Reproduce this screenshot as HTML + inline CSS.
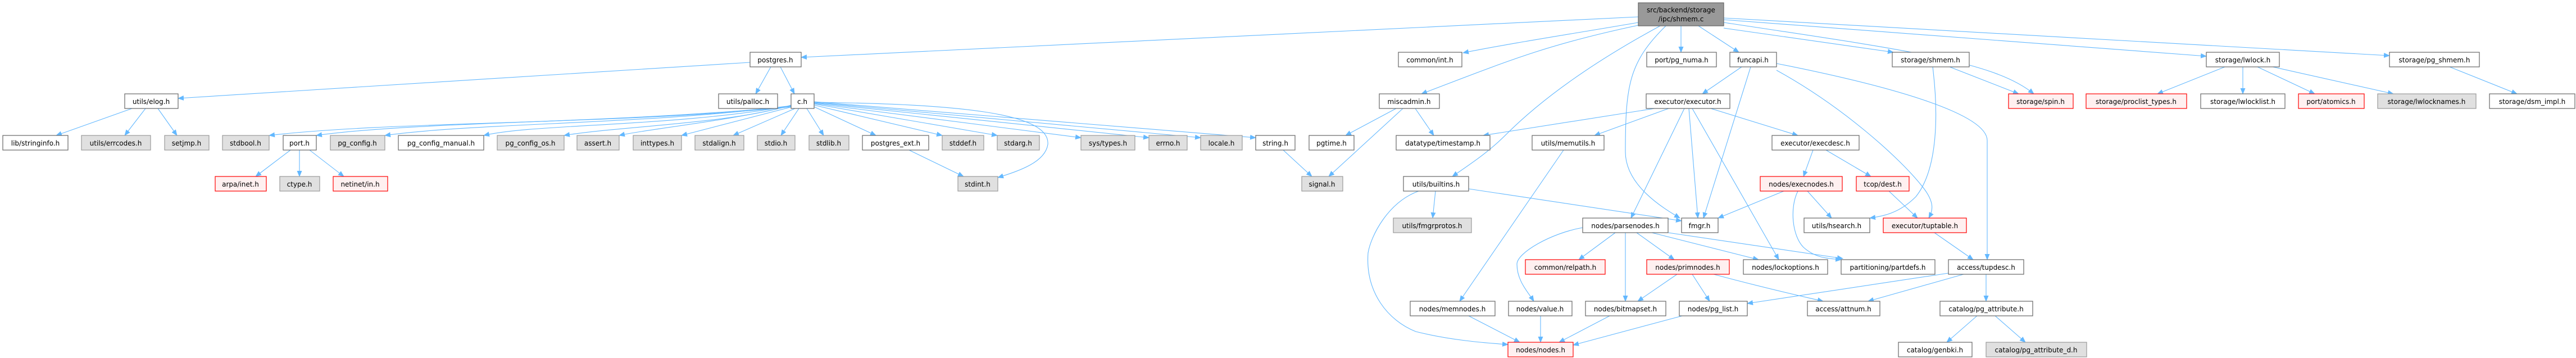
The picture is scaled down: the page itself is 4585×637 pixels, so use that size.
<!DOCTYPE html>
<html><head><meta charset="utf-8"><style>
html,body{margin:0;padding:0;background:#fff;width:4585px;height:637px;overflow:hidden}
svg text{font-family:"DejaVu Sans","Liberation Sans",sans-serif;font-size:12px;fill:#000;text-anchor:middle}
.e{fill:none;stroke:#63b8ff;stroke-width:1.1}
.w{fill:#fff;stroke:#666;stroke-width:1.2}
.g{fill:#e0e0e0;stroke:#999;stroke-width:1.2}
.r{fill:#fff0f0;stroke:#f00;stroke-width:1.2}
</style></head><body>
<svg width="4585" height="637" xmlns="http://www.w3.org/2000/svg">
<defs><marker id="a" markerWidth="11" markerHeight="9" refX="10" refY="4.5" orient="auto" markerUnits="userSpaceOnUse"><path d="M0,0 L11,4.5 L0,9 z" fill="#63b8ff"/></marker></defs>
<g class="e" marker-end="url(#a)">
<path d="M2916,30 L1426,102"/>
<path d="M1372,119 L1345,167"/>
<path d="M1389,119 L1414,167"/>
<path d="M1335,111 L317,175"/>
<path d="M1408,190 C1100,222 700,215 479,241"/>
<path d="M1408,189 C1100,220 750,215 563,241"/>
<path d="M1408,188 C1150,222 850,218 685,241"/>
<path d="M1408,188 C1200,226 950,220 861,241"/>
<path d="M1408,187 C1300,220 1100,225 1004,241"/>
<path d="M1408,188 C1300,215 1150,230 1102,241"/>
<path d="M1410,190 L1213,241"/>
<path d="M1415,193 L1305,241"/>
<path d="M1422,193 L1390,241"/>
<path d="M1436,193 L1466,241"/>
<path d="M1449,190 L1559,241"/>
<path d="M1449,187 L1677,241"/>
<path d="M1449,185 L1775,241"/>
<path d="M1449,184 L1924,245"/>
<path d="M1449,183 L2045,245"/>
<path d="M1449,182 L2137,245"/>
<path d="M1449,181 L2235,245"/>
<path d="M1449,182 C1700,185 1870,200 1865,257 C1860,290 1810,305 1776,316"/>
<path d="M1618,267 L1715,314"/>
<path d="M2284,267 L2335,314"/>
<path d="M2485,193 L2395,241"/>
<path d="M2497,193 L2365,314"/>
<path d="M2519,193 L2552,241"/>
<path d="M2916,40 C2800,60 2700,75 2604,94"/>
<path d="M2916,45 C2750,80 2680,110 2530,167"/>
<path d="M2955,46 C2800,130 2720,200 2680,240 C2650,270 2620,290 2585,314"/>
<path d="M2965,46 C2900,110 2893,150 2893,270 C2893,330 2960,370 2990,388"/>
<path d="M2992,46 L2992,93"/>
<path d="M3023,46 L3095,93"/>
<path d="M3068,50 L3370,93"/>
<path d="M3068,40 C3400,90 3550,110 3620,167"/>
<path d="M3068,35 L3927,100"/>
<path d="M3068,32 L4253,99"/>
<path d="M3100,119 L3030,167"/>
<path d="M3116,119 L3032,388"/>
<path d="M3162,113 C3350,150 3537,200 3537,250 L3537,462"/>
<path d="M3162,125 C3280,190 3380,280 3420,330 C3445,360 3440,375 3433,388"/>
<path d="M2945,193 L2640,241"/>
<path d="M2970,193 L2838,241"/>
<path d="M2998,193 L2903,388"/>
<path d="M3006,193 L3022,388"/>
<path d="M3012,193 L3166,462"/>
<path d="M3045,193 L3200,241"/>
<path d="M2783,267 L2598,536"/>
<path d="M2555,340 L2550,388"/>
<path d="M2614,336 L2993,393"/>
<path d="M2525,340 C2470,360 2440,420 2435,450 C2430,520 2470,570 2520,590 C2580,605 2640,610 2684,613"/>
<path d="M3227,267 L3210,314"/>
<path d="M3250,267 L3330,314"/>
<path d="M3175,340 L3058,388"/>
<path d="M3217,340 L3260,388"/>
<path d="M3200,340 C3185,370 3190,420 3210,440 C3230,458 3250,460 3277,462"/>
<path d="M3362,340 L3413,388"/>
<path d="M3470,119 L3593,167"/>
<path d="M3440,119 C3450,200 3450,300 3410,350 C3380,380 3350,385 3328,388"/>
<path d="M3443,414 L3512,462"/>
<path d="M2817,405 C2760,415 2700,450 2700,470 C2700,500 2720,520 2730,536"/>
<path d="M2875,414 L2810,462"/>
<path d="M2893,414 L2893,536"/>
<path d="M2913,414 L2980,462"/>
<path d="M2940,414 L3130,462"/>
<path d="M2969,414 L3280,460"/>
<path d="M2985,488 L2915,536"/>
<path d="M3012,488 L3043,536"/>
<path d="M3050,488 C3150,515 3220,530 3245,536"/>
<path d="M3468,486 L3110,540"/>
<path d="M3495,488 L3325,536"/>
<path d="M3535,488 L3535,536"/>
<path d="M3520,561 L3465,609"/>
<path d="M3550,561 L3605,609"/>
<path d="M3960,119 L3840,167"/>
<path d="M3992,119 L3992,167"/>
<path d="M4018,119 L4120,167"/>
<path d="M4045,119 L4260,167"/>
<path d="M4360,119 L4480,167"/>
<path d="M517,267 L455,314"/>
<path d="M533,267 L533,314"/>
<path d="M551,267 L612,314"/>
<path d="M235,193 L100,241"/>
<path d="M259,193 L222,241"/>
<path d="M281,193 L315,241"/>
<path d="M2612,561 L2705,609"/>
<path d="M2742,561 L2742,609"/>
<path d="M2867,561 L2775,609"/>
<path d="M2998,561 L2800,614"/>
</g>
<rect x="2916" y="5" width="152" height="41" fill="#999" stroke="#666" stroke-width="1.2"/>
<text x="2992" y="22">src/backend/storage</text><text x="2992" y="38">/ipc/shmem.c</text>

<rect class="w" x="1335" y="93" width="91" height="26"/><text x="1380" y="111">postgres.h</text>
<rect class="w" x="2489" y="93" width="113" height="26"/><text x="2545" y="111">common/int.h</text>
<rect class="w" x="2931" y="93" width="124" height="26"/><text x="2993" y="111">port/pg_numa.h</text>
<rect class="w" x="3079" y="93" width="83" height="26"/><text x="3120" y="111">funcapi.h</text>
<rect class="w" x="3368" y="93" width="137" height="26"/><text x="3436" y="111">storage/shmem.h</text>
<rect class="w" x="3927" y="93" width="130" height="26"/><text x="3992" y="111">storage/lwlock.h</text>
<rect class="w" x="4253" y="93" width="160" height="26"/><text x="4333" y="111">storage/pg_shmem.h</text>

<rect class="w" x="222" y="167" width="95" height="26"/><text x="269" y="185">utils/elog.h</text>
<rect class="w" x="1279" y="167" width="105" height="26"/><text x="1331" y="185">utils/palloc.h</text>
<rect class="w" x="1408" y="167" width="41" height="26"/><text x="1428" y="185">c.h</text>
<rect class="w" x="2455" y="167" width="107" height="26"/><text x="2508" y="185">miscadmin.h</text>
<rect class="w" x="2930" y="167" width="149" height="26"/><text x="3004" y="185">executor/executor.h</text>
<rect class="r" x="3575" y="167" width="115" height="26"/><text x="3632" y="185">storage/spin.h</text>
<rect class="r" x="3713" y="167" width="179" height="26"/><text x="3802" y="185">storage/proclist_types.h</text>
<rect class="w" x="3917" y="167" width="150" height="26"/><text x="3992" y="185">storage/lwlocklist.h</text>
<rect class="r" x="4091" y="167" width="117" height="26"/><text x="4149" y="185">port/atomics.h</text>
<rect class="g" x="4232" y="167" width="175" height="26"/><text x="4319" y="185">storage/lwlocknames.h</text>
<rect class="w" x="4431" y="167" width="152" height="26"/><text x="4507" y="185">storage/dsm_impl.h</text>

<rect class="w" x="5" y="241" width="116" height="26"/><text x="63" y="259">lib/stringinfo.h</text>
<rect class="g" x="145" y="241" width="123" height="26"/><text x="206" y="259">utils/errcodes.h</text>
<rect class="g" x="293" y="241" width="79" height="26"/><text x="332" y="259">setjmp.h</text>
<rect class="g" x="396" y="241" width="83" height="26"/><text x="437" y="259">stdbool.h</text>
<rect class="w" x="504" y="241" width="59" height="26"/><text x="533" y="259">port.h</text>
<rect class="g" x="588" y="241" width="97" height="26"/><text x="636" y="259">pg_config.h</text>
<rect class="w" x="709" y="241" width="152" height="26"/><text x="785" y="259">pg_config_manual.h</text>
<rect class="g" x="885" y="241" width="119" height="26"/><text x="944" y="259">pg_config_os.h</text>
<rect class="g" x="1027" y="241" width="75" height="26"/><text x="1064" y="259">assert.h</text>
<rect class="g" x="1127" y="241" width="86" height="26"/><text x="1170" y="259">inttypes.h</text>
<rect class="g" x="1237" y="241" width="87" height="26"/><text x="1280" y="259">stdalign.h</text>
<rect class="g" x="1348" y="241" width="67" height="26"/><text x="1381" y="259">stdio.h</text>
<rect class="g" x="1440" y="241" width="71" height="26"/><text x="1475" y="259">stdlib.h</text>
<rect class="w" x="1535" y="241" width="118" height="26"/><text x="1594" y="259">postgres_ext.h</text>
<rect class="g" x="1677" y="241" width="74" height="26"/><text x="1714" y="259">stddef.h</text>
<rect class="g" x="1775" y="241" width="75" height="26"/><text x="1812" y="259">stdarg.h</text>
<rect class="g" x="1924" y="241" width="96" height="26"/><text x="1972" y="259">sys/types.h</text>
<rect class="g" x="2045" y="241" width="68" height="26"/><text x="2079" y="259">errno.h</text>
<rect class="g" x="2137" y="241" width="74" height="26"/><text x="2174" y="259">locale.h</text>
<rect class="w" x="2235" y="241" width="70" height="26"/><text x="2270" y="259">string.h</text>
<rect class="w" x="2330" y="241" width="80" height="26"/><text x="2370" y="259">pgtime.h</text>
<rect class="w" x="2485" y="241" width="167" height="26"/><text x="2568" y="259">datatype/timestamp.h</text>
<rect class="w" x="2727" y="241" width="128" height="26"/><text x="2791" y="259">utils/memutils.h</text>
<rect class="w" x="3154" y="241" width="155" height="26"/><text x="3231" y="259">executor/execdesc.h</text>

<rect class="r" x="383" y="314" width="91" height="26"/><text x="428" y="332">arpa/inet.h</text>
<rect class="g" x="498" y="314" width="71" height="26"/><text x="533" y="332">ctype.h</text>
<rect class="r" x="593" y="314" width="97" height="26"/><text x="641" y="332">netinet/in.h</text>
<rect class="g" x="1705" y="314" width="71" height="26"/><text x="1740" y="332">stdint.h</text>
<rect class="g" x="2317" y="314" width="73" height="26"/><text x="2353" y="332">signal.h</text>
<rect class="w" x="2498" y="314" width="116" height="26"/><text x="2556" y="332">utils/builtins.h</text>
<rect class="r" x="3133" y="314" width="146" height="26"/><text x="3206" y="332">nodes/execnodes.h</text>
<rect class="r" x="3304" y="314" width="94" height="26"/><text x="3351" y="332">tcop/dest.h</text>

<rect class="g" x="2480" y="388" width="139" height="26"/><text x="2549" y="406">utils/fmgrprotos.h</text>
<rect class="w" x="2817" y="388" width="152" height="26"/><text x="2893" y="406">nodes/parsenodes.h</text>
<rect class="w" x="2993" y="388" width="65" height="26"/><text x="3025" y="406">fmgr.h</text>
<rect class="w" x="3211" y="388" width="117" height="26"/><text x="3269" y="406">utils/hsearch.h</text>
<rect class="r" x="3352" y="388" width="148" height="26"/><text x="3426" y="406">executor/tuptable.h</text>

<rect class="r" x="2715" y="462" width="142" height="26"/><text x="2786" y="480">common/relpath.h</text>
<rect class="r" x="2931" y="462" width="147" height="26"/><text x="3004" y="480">nodes/primnodes.h</text>
<rect class="w" x="3103" y="462" width="150" height="26"/><text x="3178" y="480">nodes/lockoptions.h</text>
<rect class="w" x="3277" y="462" width="167" height="26"/><text x="3360" y="480">partitioning/partdefs.h</text>
<rect class="w" x="3468" y="462" width="134" height="26"/><text x="3535" y="480">access/tupdesc.h</text>

<rect class="w" x="2510" y="536" width="151" height="26"/><text x="2585" y="554">nodes/memnodes.h</text>
<rect class="w" x="2685" y="536" width="113" height="26"/><text x="2741" y="554">nodes/value.h</text>
<rect class="w" x="2822" y="536" width="143" height="26"/><text x="2893" y="554">nodes/bitmapset.h</text>
<rect class="w" x="2989" y="536" width="121" height="26"/><text x="3049" y="554">nodes/pg_list.h</text>
<rect class="w" x="3217" y="536" width="129" height="26"/><text x="3281" y="554">access/attnum.h</text>
<rect class="w" x="3453" y="536" width="165" height="26"/><text x="3535" y="554">catalog/pg_attribute.h</text>

<rect class="r" x="2684" y="609" width="116" height="26"/><text x="2742" y="627">nodes/nodes.h</text>
<rect class="w" x="3379" y="609" width="131" height="26"/><text x="3444" y="627">catalog/genbki.h</text>
<rect class="g" x="3535" y="609" width="179" height="26"/><text x="3624" y="627">catalog/pg_attribute_d.h</text>
</svg>
</body></html>
